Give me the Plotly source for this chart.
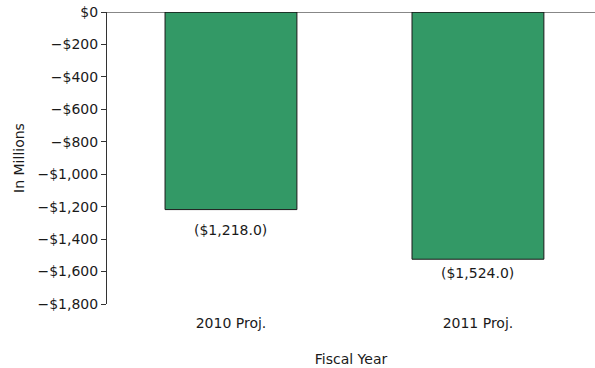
import plotly.graph_objects as go

categories = ["2010 Proj.", "2011 Proj."]
values = [-1218.0, -1524.0]
bar_labels = ["($1,218.0)", "($1,524.0)"]
tick_vals = [0, -200, -400, -600, -800, -1000, -1200, -1400, -1600, -1800]
tick_text = ["$0", "−$200", "−$400", "−$600", "−$800", "−$1,000", "−$1,200", "−$1,400", "−$1,600", "−$1,800"]

font_family = "DejaVu Sans"
fs = 14
label_shift = [-10, -4]

fig = go.Figure()
fig.add_trace(go.Bar(
    x=categories, y=values,
    marker=dict(color="#339966", line=dict(color="#1a1a1a", width=1)),
    cliponaxis=False,
))

annotations = [
    dict(x=c, y=v, text=t, xref="x", yref="y", showarrow=False,
         yanchor="top", yshift=s,
         font=dict(family=font_family, size=fs, color="#1a1a1a"))
    for c, v, t, s in zip(categories, values, bar_labels, label_shift)
]

fig.update_layout(
    width=595, height=368,
    margin=dict(l=107, r=0, t=12, b=64),
    paper_bgcolor="white", plot_bgcolor="white",
    bargap=0.466,
    showlegend=False,
    font=dict(family=font_family, size=fs, color="#1a1a1a"),
    annotations=annotations,
    xaxis=dict(
        range=[-0.502, 1.474],
        showline=False, showgrid=False, ticks="", zeroline=False,
        ticklabelstandoff=9,
        tickfont=dict(family=font_family, size=fs, color="#1a1a1a"),
        title=dict(text="Fiscal Year", font=dict(size=fs), standoff=24),
    ),
    yaxis=dict(
        range=[-1800, 0], tickvals=tick_vals, ticktext=tick_text,
        showline=True, linecolor="#333333", linewidth=1,
        ticks="outside", ticklen=5, tickcolor="#333333",
        showgrid=False, zeroline=False,
        tickfont=dict(family=font_family, size=fs, color="#1a1a1a"),
        title=dict(text="In Millions", font=dict(size=fs), standoff=9),
    ),
    shapes=[dict(type="line", xref="paper", yref="y", x0=0, x1=1, y0=0, y1=0,
                 line=dict(color="#111111", width=1))],
)

fig.write_html("out.html")
